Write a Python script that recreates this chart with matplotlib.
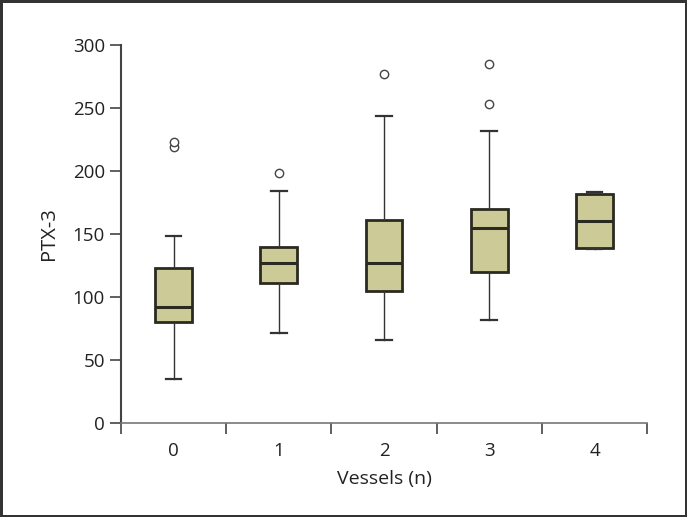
import matplotlib
matplotlib.use('Agg')
import matplotlib.pyplot as plt

# box statistics
groups = ['0', '1', '2', '3', '4']
whislo = [35, 71, 66, 82, 138]
q1 = [80, 111, 105, 120, 139]
med = [92, 127, 127, 155, 160]
q3 = [123, 140, 161, 170, 182]
whishi = [148, 184, 244, 232, 183]
fliers = [[219, 223], [198], [277], [253, 285], []]

plt.rcParams['font.family'] = ['Open Sans', 'DejaVu Sans']
plt.rcParams['font.size'] = 12

fig = plt.figure(figsize=(6.87, 5.17), dpi=100, edgecolor='#333333', linewidth=2.5)
ax = fig.add_axes([0.176, 0.182, 0.766, 0.731])

stats = []
for i, g in enumerate(groups):
    stats.append({'label': g, 'whislo': whislo[i], 'q1': q1[i], 'med': med[i],
                  'q3': q3[i], 'whishi': whishi[i], 'fliers': fliers[i]})

edge = '#2b2a20'
ax.bxp(stats, positions=range(len(groups)), widths=0.35, patch_artist=True,
       boxprops=dict(facecolor='#cccb98', edgecolor=edge, linewidth=2.0),
       medianprops=dict(color=edge, linewidth=2.2),
       whiskerprops=dict(color='#333333', linewidth=1.0),
       capprops=dict(color='#333333', linewidth=1.6),
       flierprops=dict(marker='o', markerfacecolor='white', markeredgecolor='#444444',
                       markersize=6, markeredgewidth=1.0),
       capwidths=0.15)

ax.set_xlim(-0.5, len(groups) - 0.5)
ax.set_ylim(0, 300)
ax.set_yticks([0, 50, 100, 150, 200, 250, 300])

# category boundary ticks, labels at centres
ax.set_xticks([i - 0.5 for i in range(len(groups) + 1)])
ax.set_xticklabels([])
ax.set_xticks(range(len(groups)), minor=True)
ax.set_xticklabels(groups, minor=True)
ax.tick_params(axis='x', which='major', length=8, width=1.2, color='#444444')
ax.tick_params(axis='x', which='minor', length=0, pad=14, labelsize=13.5, labelcolor='#222222')
ax.tick_params(axis='y', length=8, width=1.2, color='#444444', labelsize=13.5, labelcolor='#222222')

for s in ['top', 'right']:
    ax.spines[s].set_visible(False)
ax.spines['left'].set_color('#444444')
ax.spines['left'].set_linewidth(1.5)
ax.spines['bottom'].set_color('#777777')
ax.spines['bottom'].set_linewidth(1.2)

ax.set_xlabel('Vessels (n)', fontsize=14, color='#222222', labelpad=7)
ax.set_ylabel('PTX-3', fontsize=14.5, color='#222222', labelpad=10)

fig.savefig('out.png', dpi=100, facecolor='white', edgecolor=fig.get_edgecolor())
